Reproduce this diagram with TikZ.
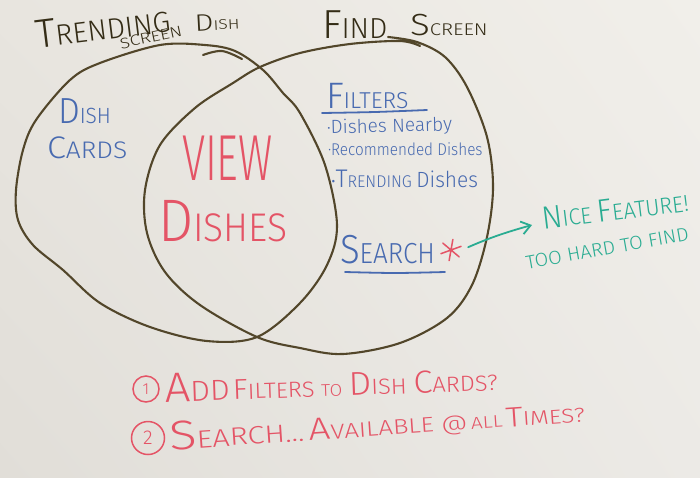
\documentclass[tikz,border=0pt]{standalone}
\usepackage{fontspec}
\IfFontExistsTF{Fira Sans Light}{\setmainfont{Fira Sans Light}}{\setmainfont{Fira Sans}}
\usetikzlibrary{arrows.meta,shadings}
\definecolor{boardA}{RGB}{232,229,223}
\definecolor{boardB}{RGB}{241,239,234}
\definecolor{boardC}{RGB}{225,222,216}
\definecolor{boardD}{RGB}{236,234,230}
\definecolor{loopink}{RGB}{82,70,42}
\definecolor{titleink}{RGB}{52,44,22}
\definecolor{blueink}{RGB}{72,106,176}
\definecolor{redink}{RGB}{228,84,102}
\definecolor{tealink}{RGB}{42,172,146}
\newcommand\fsz[1]{\fontsize{#1}{#1}\selectfont}
\newcommand\ini[2]{\scalebox{#1}{#2}}
\begin{document}
\begin{tikzpicture}[x=1pt,y=-1pt,
  outline/.style={draw=loopink, line width=2.1pt, line cap=round, line join=round},
  pen/.style={line width=#1, line cap=round, line join=round},
  txt/.style={inner sep=0pt, outer sep=0pt, anchor=base west},
  titletxt/.style={txt, text=titleink},
  bluetxt/.style={txt, text=blueink},
  redtxt/.style={txt, text=redink},
  tealtxt/.style={txt, text=tealink},
  numring/.style={circle, draw=redink, line width=1.5pt, text=redink, inner sep=0pt},
]
% whiteboard
\useasboundingbox (0,0) rectangle (700,477);
\shade[upper left=boardA, upper right=boardB, lower left=boardC, lower right=boardD]
  (0,0) rectangle (700,477);

% left loop: trending dish screen
\draw[outline] plot[smooth cycle, tension=0.55] coordinates {
  (16,190) (23,150) (36,120) (70,80) (100,63) (160,45) (205,45) (235,51)
  (263,70) (283,93) (300,113) (325,165) (337,225) (327,265) (300,303)
  (257,337) (207,341) (150,327) (100,303) (63,270) (33,245) (18,220)};
\draw[outline] plot[smooth, tension=0.6] coordinates {(203,55) (222,51) (242,59)};

% right loop: find screen
\draw[outline] plot[smooth, tension=0.55] coordinates {
  (420,46) (400,41) (350,44) (300,53) (260,67) (233,83) (195,108) (160,145)
  (145,190) (147,233) (165,272) (200,305) (257,337) (300,348) (343,354)
  (400,343) (447,318) (472,285) (487,237) (493,187) (487,137) (467,87)
  (445,57) (417,42) (388,37)};

% headings
\node[titletxt, rotate=7] (trend) at (37,48) {\fsz{29}\ini{1.4}{T}RENDING};
\node[titletxt, rotate=3, xscale=1.25] (dish) at (195,31) {\fsz{14}\ini{1.7}{D}ISH};
\node[titletxt, rotate=12, xscale=1.25] (scr) at (121,49) {\fsz{15}SCREEN};
\node[titletxt] (find) at (322,38) {\fsz{29}\ini{1.4}{F}IND};
\node[titletxt, xscale=1.2] (fscr) at (410,35) {\fsz{17}\ini{1.8}{S}CREEN};

% left area
\node[bluetxt, xscale=0.95] (dc1) at (58,123) {\fsz{22}\ini{1.65}{D}ISH};
\node[bluetxt, xscale=1.1] (dc2) at (47,158) {\fsz{24}\ini{1.3}{C}ARDS};

% overlap
\node[redtxt, xscale=0.65] (view) at (182,180) {\fsz{65}VIEW};
\node[redtxt, xscale=0.93] (vdish) at (158,241) {\fsz{40}\ini{1.5}{D}ISHES};

% right area
\node[bluetxt] (filt) at (326,108) {\fsz{23}\ini{1.6}{F}ILTERS};
\draw[blueink, pen=1.8pt] plot[smooth] coordinates {(322,113) (375,112) (427,110)};
\node[bluetxt, rotate=1.5] (f1) at (327,134) {\fsz{19}·Dishes Nearby};
\node[bluetxt, xscale=0.9] (f2) at (328,155) {\fsz{17}·Recommended Dishes};
\node[bluetxt, xscale=0.95] (f3) at (331,187) {\fsz{17}•\ini{1.5}{T}RENDING {\fsz{22}Dishes}};
\node[bluetxt, xscale=0.9] (search) at (340,263) {\fsz{29}\ini{1.4}{S}EARCH};
\draw[blueink, pen=1.8pt] plot[smooth] coordinates {(345,272) (395,273) (445,272)};

% asterisk
\node[circle, minimum size=21pt, inner sep=0pt] (star) at (451,250) {};
\draw[redink, pen=1.5pt] (star.80) -- (star.260) (star.20) -- (star.200) (star.140) -- (star.320);

% comment beside the loops
\node[tealtxt, rotate=7, xscale=0.95] (nice) at (543,229) {\fsz{23}\ini{1.4}{N}ICE \ini{1.4}{F}EATURE!};
\node[tealtxt, rotate=10, xscale=1.04] (hard) at (527,269) {\fsz{19}TOO HARD TO FIND};
\coordinate (tip) at (532,225);
\draw[tealink, pen=1.8pt, -{Straight Barb[length=9pt, width=13pt, line width=1.8pt]}, shorten <=7pt]
  (star.east) to[bend left=4] (tip);

% questions
\node[numring, minimum size=26pt] (n1) at (146,389) {\fsz{16}1};
\node[redtxt, rotate=2, xscale=1.08] (q1) at (165,402)
  {{\fsz{29}\ini{1.45}{A}DD} {\fsz{22}\ini{1.3}{F}ILTERS {\fsz{17}TO} \ini{1.5}{D}ISH \ini{1.45}{C}ARDS?}};
\node[numring, minimum size=33pt] (n2) at (148,438) {\fsz{20}2};
\node[redtxt, rotate=3.9, xscale=1.23] (q2) at (170,450)
  {{\fsz{25}\ini{1.65}{S}EARCH...} {\fsz{21}\ini{1.5}{A}VAILABLE @} {\fsz{17}ALL} {\fsz{20}\ini{1.4}{T}IMES?}};
\end{tikzpicture}
\end{document}
